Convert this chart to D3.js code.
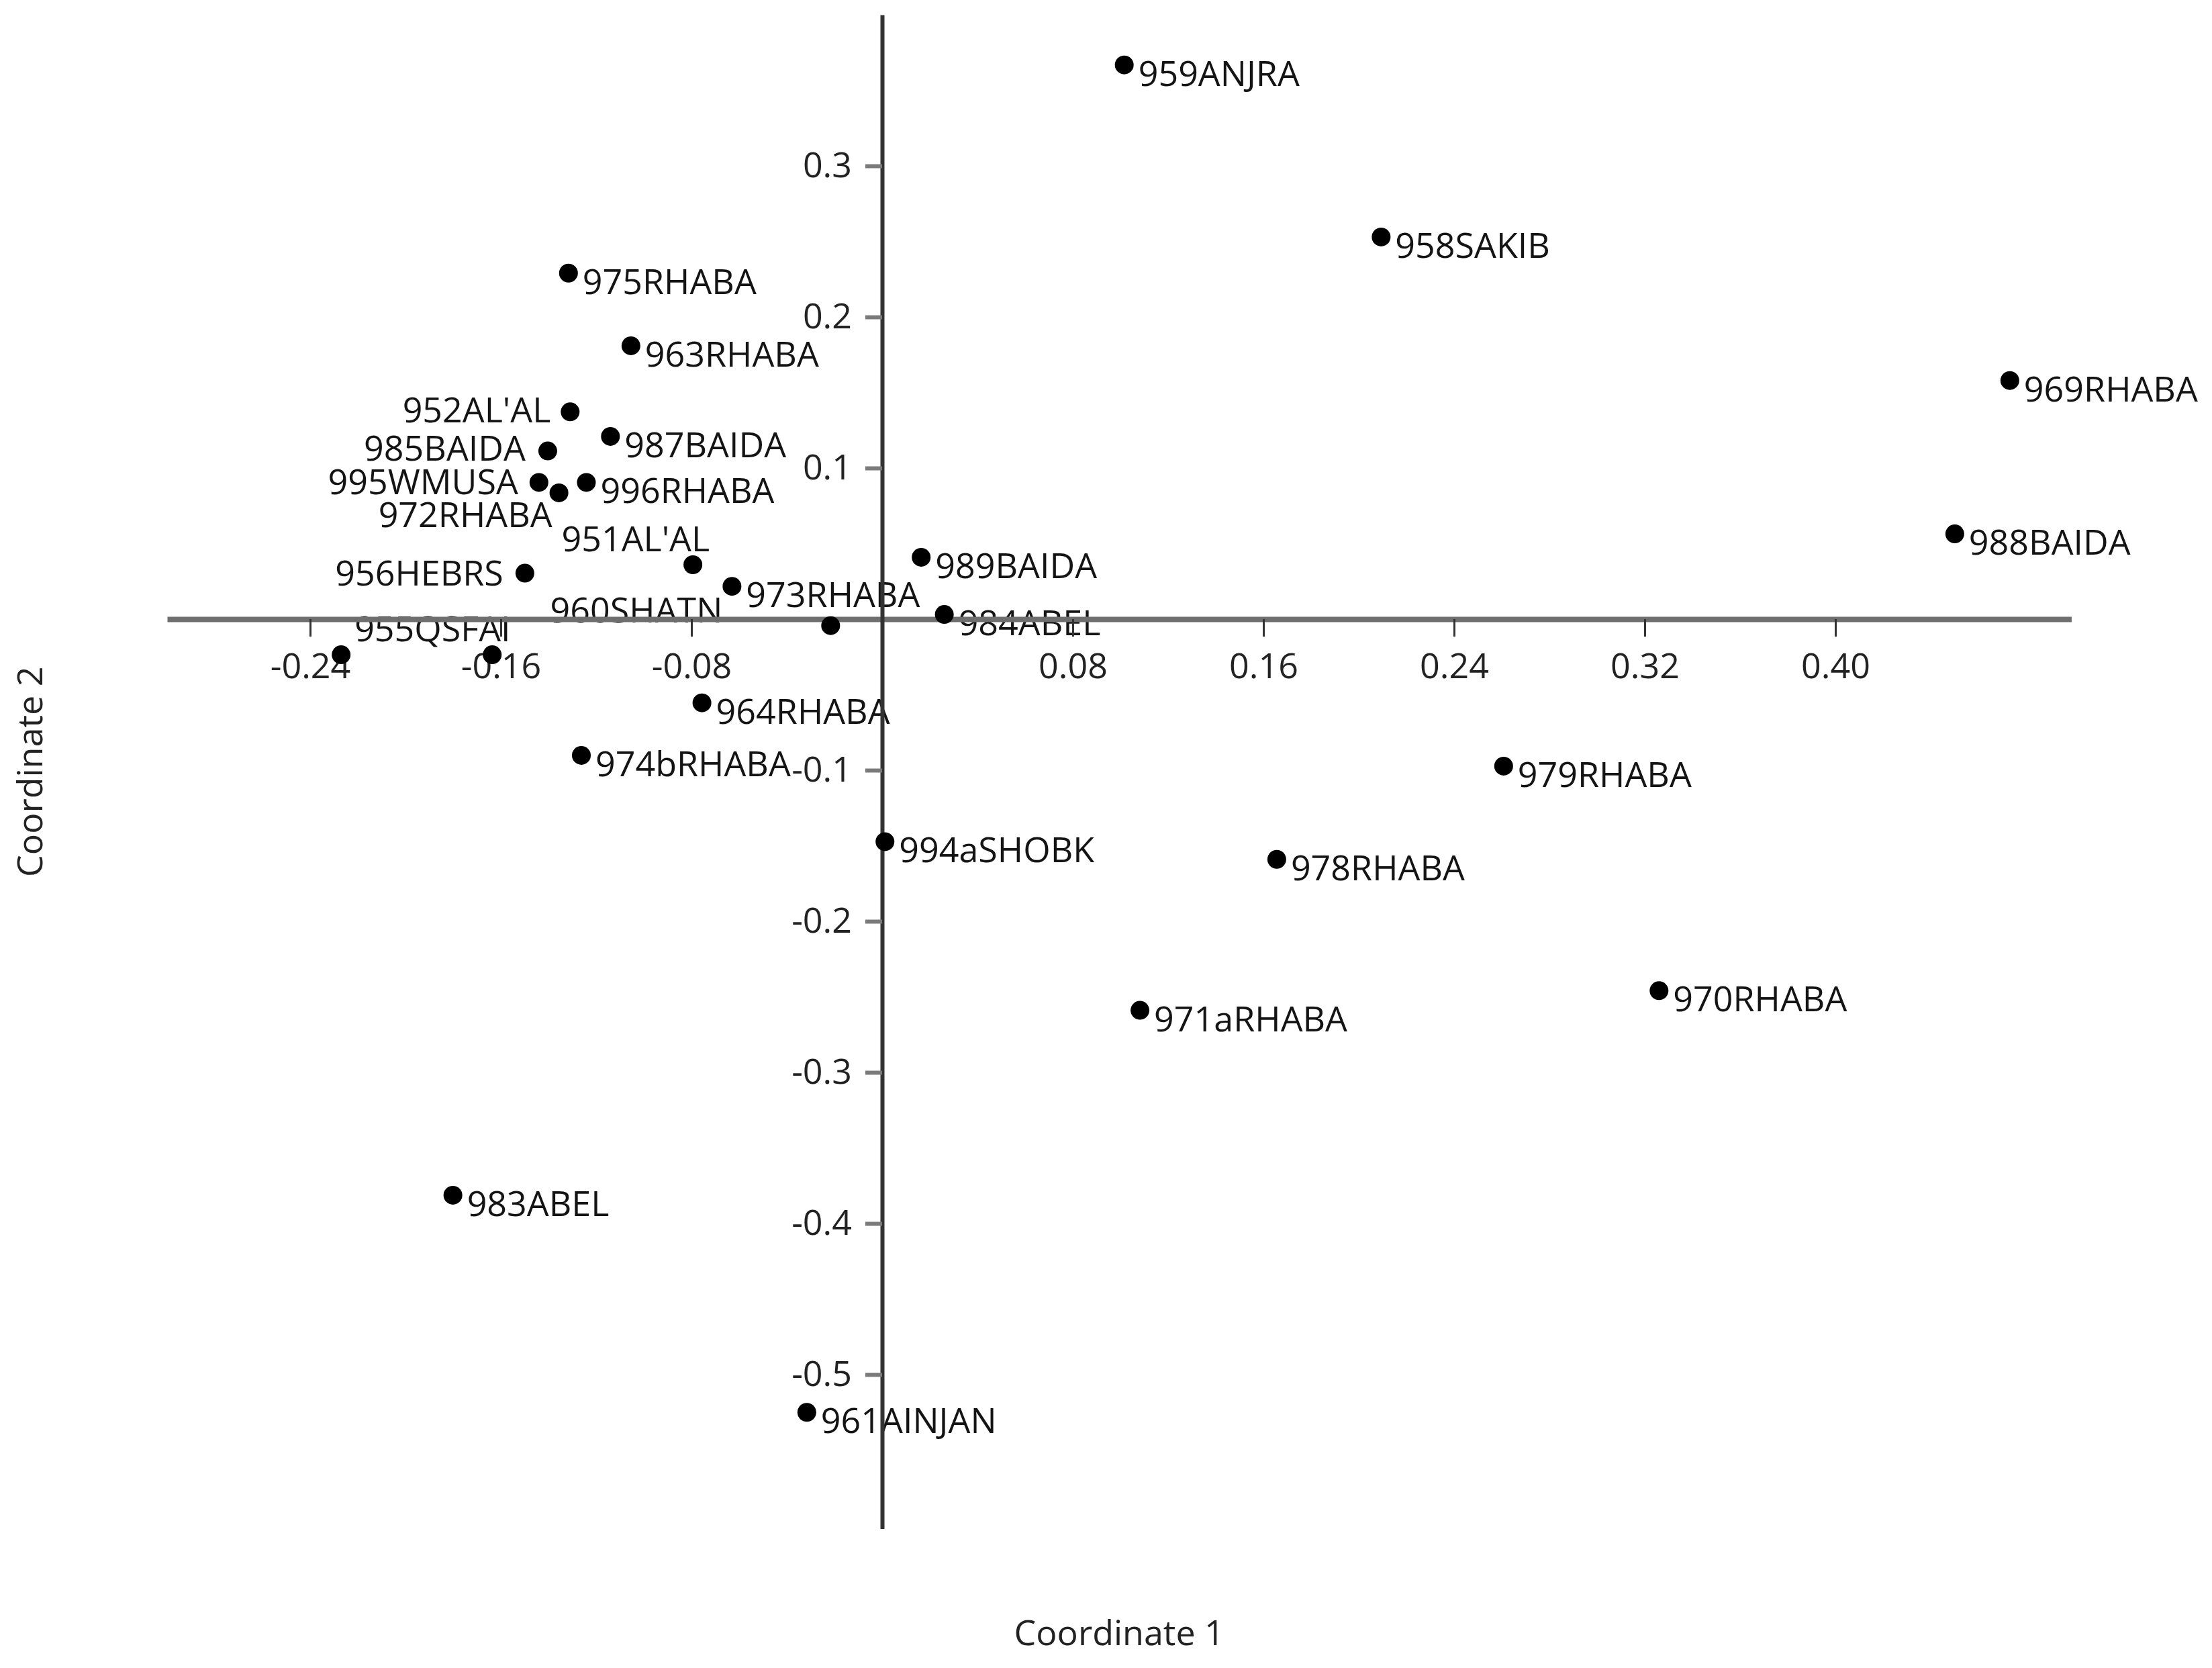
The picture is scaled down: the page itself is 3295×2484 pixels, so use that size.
<!DOCTYPE html>
<html>
<head>
<meta charset="utf-8">
<script src="https://d3js.org/d3.v7.min.js"></script>
<style>
  body { margin: 0; background: #fff; }
</style>
</head>
<body>
<script>
// sample names and their two coordinates
const names = ["959ANJRA", "958SAKIB", "975RHABA", "963RHABA", "969RHABA", "952AL'AL",
  "987BAIDA", "985BAIDA", "995WMUSA", "972RHABA", "996RHABA", "951AL'AL",
  "989BAIDA", "988BAIDA", "956HEBRS", "973RHABA", "960SHATN", "984ABEL",
  "955QSFAI", "", "964RHABA", "974bRHABA", "994aSHOBK", "979RHABA",
  "978RHABA", "971aRHABA", "970RHABA", "983ABEL", "961AINJAN"];
const coord1 = [0.1016, 0.2094, -0.1316, -0.1054, 0.4732, -0.1309,
  -0.1140, -0.1403, -0.1440, -0.1356, -0.1241, -0.0794,
  0.0164, 0.4501, -0.1499, -0.0630, -0.0216, 0.0261,
  -0.2270, -0.1636, -0.0756, -0.1262, 0.0012, 0.2608,
  0.1656, 0.1082, 0.3260, -0.1801, -0.0316];
const coord2 = [0.3668, 0.2529, 0.2290, 0.1809, 0.1579, 0.1372,
  0.1209, 0.1113, 0.0905, 0.0836, 0.0905, 0.0360,
  0.0409, 0.0564, 0.0304, 0.0217, -0.0043, 0.0031,
  -0.0236, -0.0236, -0.0554, -0.0902, -0.1473, -0.0973,
  -0.1590, -0.2589, -0.2459, -0.3813, -0.5250];

const xTicks = [-0.24, -0.16, -0.08, 0.08, 0.16, 0.24, 0.32, 0.40];
const xTickLabels = ["-0.24", "-0.16", "-0.08", "0.08", "0.16", "0.24", "0.32", "0.40"];
const yTicks = [0.3, 0.2, 0.1, -0.1, -0.2, -0.3, -0.4, -0.5];
const yTickLabels = ["0.3", "0.2", "0.1", "-0.1", "-0.2", "-0.3", "-0.4", "-0.5"];

// where each label sits relative to its dot: [dx, dy, anchor]
const R = [21, 31, "start"];
const labelPlace = [R, R, R, R, R, [-29, 16, "end"],
  R, [-33, 14, "end"], [-31, 18, "end"], [-10, 51, "end"], R, [25, -20, "end"],
  R, R, [-32, 18, "end"], R, [-161, -5, "end"], R,
  [20, -20, "start"], R, R, R, R, R,
  R, R, R, R, R];

const width = 3295, height = 2484;
const fontSize = 52;
const font = '"Open Sans", sans-serif';

const svg = d3.select("body").append("svg")
  .attr("width", width)
  .attr("height", height)
  .style("display", "block");

const x = d3.scaleLinear()
  .domain([-0.300, 0.499])
  .range([1314 - 0.300 * 3550, 1314 + 0.499 * 3550]);

const y = d3.scaleLinear()
  .domain([-0.602, 0.400])
  .range([922 + 0.602 * 2250, 922 - 0.400 * 2250]);

// point labels first, the axes run over them
svg.append("g")
  .selectAll("text")
  .data(names)
  .join("text")
    .attr("x", (d, i) => x(coord1[i]) + labelPlace[i][0])
    .attr("y", (d, i) => y(coord2[i]) + labelPlace[i][1])
    .attr("text-anchor", (d, i) => labelPlace[i][2])
    .attr("font-family", font)
    .attr("font-size", fontSize)
    .attr("fill", "#141414")
    .text(d => d);

let xAxis = d3.axisBottom(x)
  .tickValues(xTicks)
  .tickFormat((d, i) => xTickLabels[i])
  .tickSizeInner(26)
  .tickSizeOuter(0)
  .tickPadding(25);

let gx = svg.append("g")
  .attr("transform", `translate(0,${y(0)})`)
  .call(xAxis)
  .attr("font-family", font)
  .attr("font-size", fontSize);
gx.select(".domain").attr("stroke", "#6e6e6e").attr("stroke-width", 8);
gx.selectAll(".tick line").attr("stroke", "#333").attr("stroke-width", 3);
gx.selectAll(".tick text").attr("fill", "#222");

let yAxis = d3.axisLeft(y)
  .tickValues(yTicks)
  .tickFormat((d, i) => yTickLabels[i])
  .tickSizeInner(25)
  .tickSizeOuter(0)
  .tickPadding(20);

let gy = svg.append("g")
  .attr("transform", `translate(${x(0)},0)`)
  .call(yAxis)
  .attr("font-family", font)
  .attr("font-size", fontSize);
gy.select(".domain").attr("stroke", "#333").attr("stroke-width", 6);
gy.selectAll(".tick line").attr("stroke", "#7a7a7a").attr("stroke-width", 6);
gy.selectAll(".tick text").attr("fill", "#222");

// dots on top
svg.append("g")
  .selectAll("circle")
  .data(names)
  .join("circle")
    .attr("cx", (d, i) => x(coord1[i]))
    .attr("cy", (d, i) => y(coord2[i]))
    .attr("r", 14)
    .attr("fill", "#000");

// axis titles
let xr = x.range(), yr = y.range();
svg.append("text")
  .attr("x", (xr[0] + xr[1]) / 2)
  .attr("y", 2450)
  .attr("text-anchor", "middle")
  .attr("font-family", font)
  .attr("font-size", fontSize)
  .attr("fill", "#222")
  .text("Coordinate 1");

svg.append("text")
  .attr("transform", `translate(63,${(yr[0] + yr[1]) / 2}) rotate(-90)`)
  .attr("text-anchor", "middle")
  .attr("font-family", font)
  .attr("font-size", fontSize)
  .attr("fill", "#222")
  .text("Coordinate 2");
</script>
</body>
</html>
